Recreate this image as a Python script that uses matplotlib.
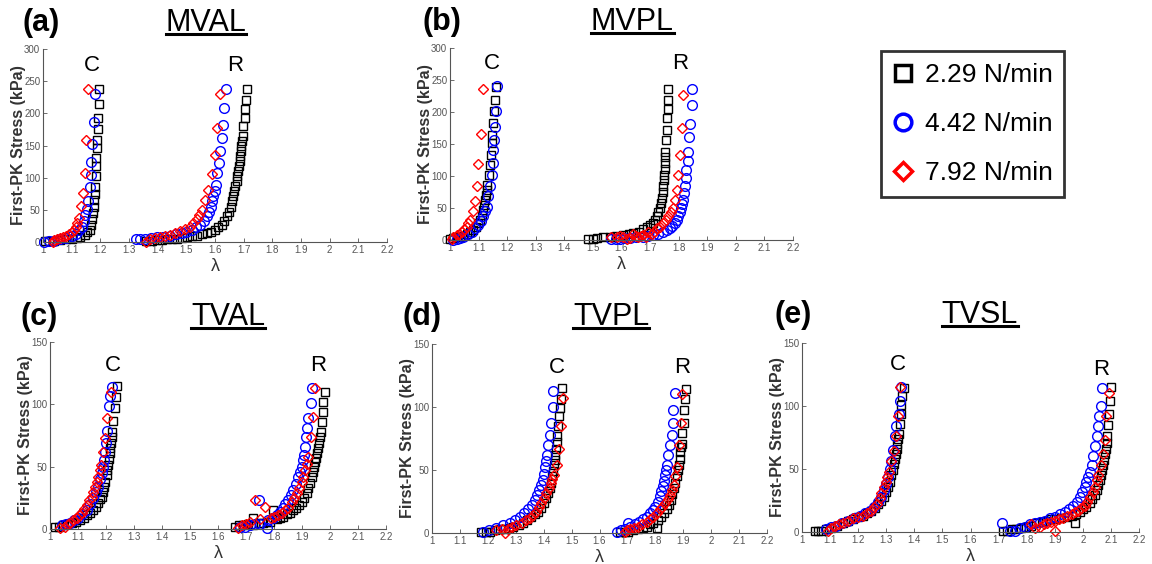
import matplotlib
matplotlib.use("Agg")
import matplotlib.pyplot as plt
from matplotlib.lines import Line2D

plt.rcParams["font.family"] = ["Liberation Sans", "DejaVu Sans"]

W, H = 1152, 564

# ---- data: (stretch lambda, first-PK stress in kPa) ----
RATES = ["2.29 N/min", "4.42 N/min", "7.92 N/min"]

# (a) MVAL
MVAL_C_229 = [(1.006, 1), (1.02, 2), (1.04, 2), (1.06, 3), (1.08, 4), (1.10, 5), (1.117, 6),
              (1.13, 8), (1.146, 11), (1.155, 15), (1.163, 19), (1.168, 27), (1.172, 35),
              (1.175, 45), (1.177, 55), (1.179, 65), (1.181, 74), (1.182, 86), (1.184, 102),
              (1.186, 118), (1.186, 130), (1.189, 146), (1.19, 159), (1.191, 176),
              (1.192, 193), (1.195, 215), (1.196, 238)]
MVAL_C_442 = [(1.005, 0), (1.02, 1), (1.04, 2), (1.06, 4), (1.08, 6), (1.10, 9), (1.115, 13),
              (1.125, 18), (1.135, 24), (1.142, 32), (1.148, 42), (1.153, 52), (1.157, 63),
              (1.163, 86), (1.166, 104), (1.169, 124), (1.172, 153), (1.177, 187), (1.181, 230)]
MVAL_C_792 = [(1.035, 0), (1.04, 3), (1.05, 5), (1.06, 6), (1.07, 8), (1.08, 10), (1.09, 12),
              (1.10, 15), (1.108, 19), (1.114, 24), (1.12, 30), (1.126, 37), (1.134, 56),
              (1.14, 76), (1.146, 107), (1.149, 159), (1.157, 238)]
MVAL_R_229 = [(1.361, 2), (1.38, 2), (1.396, 3), (1.415, 3), (1.431, 4), (1.45, 5), (1.466, 5),
              (1.485, 6), (1.501, 7), (1.52, 9), (1.536, 10), (1.555, 12), (1.571, 14),
              (1.585, 16), (1.6, 19), (1.612, 23), (1.624, 27), (1.633, 33), (1.641, 40),
              (1.648, 47), (1.655, 55), (1.66, 63), (1.664, 71), (1.668, 79), (1.671, 87),
              (1.675, 95), (1.678, 102), (1.681, 110), (1.683, 118), (1.686, 126), (1.688, 133),
              (1.69, 141), (1.692, 149), (1.694, 157), (1.696, 164), (1.699, 180),
              (1.703, 193), (1.705, 207), (1.707, 221), (1.711, 238)]
MVAL_R_442 = [(1.326, 4), (1.34, 4), (1.355, 5), (1.375, 6), (1.396, 7), (1.42, 8), (1.443, 10),
              (1.465, 12), (1.484, 14), (1.5, 16), (1.519, 19), (1.535, 23), (1.548, 27),
              (1.56, 33), (1.571, 40), (1.578, 47), (1.585, 55), (1.59, 63), (1.594, 71),
              (1.6, 80), (1.604, 89), (1.608, 107), (1.614, 123), (1.618, 141), (1.624, 162),
              (1.627, 182), (1.632, 208), (1.638, 238)]
MVAL_R_792 = [(1.361, 0), (1.373, 5), (1.39, 6), (1.408, 8), (1.425, 9), (1.443, 11), (1.46, 14),
              (1.478, 17), (1.495, 20), (1.513, 24), (1.525, 29), (1.536, 35), (1.545, 42),
              (1.554, 50), (1.565, 66), (1.577, 81), (1.589, 105), (1.6, 136), (1.608, 177),
              (1.618, 230)]

# (b) MVPL
MVPL_C_229 = [(1.0, 2), (1.012, 3), (1.024, 4), (1.035, 5), (1.046, 7), (1.058, 9), (1.07, 12),
              (1.082, 16), (1.09, 20), (1.099, 26), (1.105, 32), (1.111, 39), (1.116, 47),
              (1.12, 55), (1.123, 62), (1.126, 70), (1.129, 78), (1.131, 86), (1.135, 102),
              (1.139, 117), (1.142, 133), (1.146, 151), (1.148, 164), (1.152, 183),
              (1.154, 201), (1.157, 219), (1.161, 239)]
MVPL_C_442 = [(1.01, 0), (1.023, 1), (1.035, 3), (1.047, 5), (1.062, 9), (1.076, 13),
              (1.088, 18), (1.099, 23), (1.108, 30), (1.117, 37), (1.123, 45), (1.128, 52),
              (1.134, 68), (1.14, 84), (1.146, 102), (1.149, 120), (1.152, 141), (1.155, 157),
              (1.157, 177), (1.161, 201), (1.163, 241)]
MVPL_C_792 = [(1.006, 1), (1.012, 4), (1.023, 8), (1.032, 10), (1.041, 13), (1.05, 17),
              (1.058, 21), (1.064, 26), (1.07, 31), (1.079, 45), (1.087, 61), (1.093, 85),
              (1.099, 118), (1.107, 165), (1.117, 236)]
MVPL_R_229 = [(1.484, 1), (1.5, 2), (1.513, 3), (1.536, 4), (1.559, 5), (1.582, 6), (1.606, 8),
              (1.625, 9), (1.641, 11), (1.66, 13), (1.676, 17), (1.69, 20), (1.699, 23),
              (1.709, 27), (1.717, 32), (1.723, 37), (1.728, 44), (1.733, 50), (1.737, 58),
              (1.741, 66), (1.744, 75), (1.746, 84), (1.748, 93), (1.75, 102), (1.751, 111),
              (1.752, 120), (1.753, 129), (1.753, 138), (1.755, 157), (1.758, 172),
              (1.76, 191), (1.761, 204), (1.763, 219), (1.763, 236)]
MVPL_R_442 = [(1.565, 1), (1.58, 2), (1.594, 2), (1.61, 3), (1.629, 3), (1.65, 4), (1.676, 5),
              (1.693, 6), (1.711, 8), (1.728, 10), (1.746, 12), (1.758, 15), (1.769, 18),
              (1.778, 22), (1.787, 26), (1.793, 31), (1.798, 37), (1.803, 43), (1.808, 50),
              (1.811, 56), (1.814, 63), (1.818, 73), (1.822, 84), (1.825, 97), (1.827, 109),
              (1.831, 123), (1.833, 138), (1.836, 161), (1.839, 182), (1.845, 211),
              (1.845, 236)]
MVPL_R_792 = [(1.565, 4), (1.583, 4), (1.595, 7), (1.606, 5), (1.618, 2), (1.629, 3),
              (1.641, 10), (1.65, 6), (1.659, 4), (1.668, 7), (1.676, 8), (1.685, 4),
              (1.693, 13), (1.705, 9), (1.715, 12), (1.723, 18), (1.735, 21), (1.746, 26),
              (1.755, 31), (1.763, 37), (1.772, 44), (1.779, 50), (1.787, 63), (1.793, 78),
              (1.798, 102), (1.804, 133), (1.81, 175), (1.816, 227)]

# (c) TVAL
TVAL_C_229 = [(1.018, 2), (1.033, 2), (1.048, 3), (1.062, 4), (1.077, 5), (1.092, 6),
              (1.107, 7), (1.12, 9), (1.131, 11), (1.143, 13), (1.155, 15), (1.165, 18),
              (1.173, 21), (1.18, 24), (1.185, 26), (1.19, 30), (1.193, 34), (1.198, 38),
              (1.202, 43), (1.205, 47), (1.208, 51), (1.211, 56), (1.214, 61), (1.216, 65),
              (1.218, 69), (1.221, 74), (1.223, 78), (1.226, 87), (1.232, 97), (1.235, 106),
              (1.238, 115)]
TVAL_C_442 = [(1.042, 3), (1.056, 4), (1.071, 5), (1.086, 7), (1.101, 9), (1.116, 12),
              (1.131, 15), (1.143, 20), (1.155, 25), (1.165, 30), (1.173, 34), (1.18, 40),
              (1.185, 45), (1.19, 50), (1.193, 55), (1.197, 62), (1.2, 69), (1.205, 79),
              (1.212, 99), (1.214, 107), (1.22, 114)]
TVAL_C_792 = [(1.036, 1), (1.054, 2), (1.063, 4), (1.071, 5), (1.083, 7), (1.095, 9),
              (1.104, 11), (1.113, 13), (1.123, 16), (1.133, 19), (1.141, 23), (1.149, 26),
              (1.155, 30), (1.161, 34), (1.167, 38), (1.173, 42), (1.177, 47), (1.181, 51),
              (1.188, 62), (1.196, 73), (1.205, 89), (1.218, 110)]
TVAL_R_229 = [(1.661, 2), (1.675, 3), (1.69, 3), (1.708, 4), (1.726, 3), (1.726, 9),
              (1.745, 5), (1.762, 5), (1.774, 6), (1.786, 6), (1.798, 15), (1.81, 8),
              (1.822, 9), (1.833, 10), (1.845, 12), (1.857, 13), (1.868, 15), (1.879, 17),
              (1.889, 19), (1.899, 22), (1.908, 25), (1.917, 29), (1.923, 33), (1.929, 37),
              (1.934, 42), (1.938, 46), (1.942, 50), (1.946, 54), (1.95, 57), (1.955, 61),
              (1.958, 65), (1.962, 69), (1.965, 74), (1.967, 78), (1.97, 86), (1.974, 94),
              (1.976, 102), (1.982, 110)]
TVAL_R_442 = [(1.679, 2), (1.697, 2), (1.714, 3), (1.732, 4), (1.748, 23), (1.75, 4),
              (1.774, 1), (1.78, 7), (1.795, 9), (1.81, 11), (1.82, 14), (1.831, 17),
              (1.841, 20), (1.851, 23), (1.86, 27), (1.869, 31), (1.878, 36), (1.887, 42),
              (1.893, 46), (1.899, 50), (1.903, 55), (1.907, 59), (1.911, 66), (1.914, 74),
              (1.919, 81), (1.923, 89), (1.931, 101), (1.935, 113)]
TVAL_R_792 = [(1.673, 1), (1.685, 3), (1.7, 4), (1.714, 6), (1.732, 23), (1.75, 8),
              (1.768, 18), (1.788, 9), (1.8, 10), (1.815, 11), (1.827, 13), (1.839, 15),
              (1.851, 17), (1.863, 22), (1.872, 25), (1.881, 29), (1.89, 33), (1.899, 38),
              (1.905, 42), (1.911, 47), (1.918, 52), (1.923, 58), (1.931, 74), (1.938, 90),
              (1.946, 113)]

# (d) TVPL
TVPL_C_229 = [(1.177, 1), (1.192, 1), (1.207, 1), (1.225, 2), (1.243, 3), (1.26, 3),
              (1.275, 4), (1.291, 5), (1.31, 6), (1.327, 8), (1.342, 10), (1.356, 13),
              (1.368, 15), (1.38, 17), (1.391, 20), (1.401, 24), (1.409, 28), (1.416, 32),
              (1.422, 36), (1.427, 40), (1.431, 45), (1.434, 49), (1.437, 54), (1.439, 58),
              (1.442, 62), (1.444, 67), (1.447, 72), (1.449, 77), (1.452, 85), (1.456, 93),
              (1.458, 99), (1.462, 106), (1.467, 115)]
TVPL_C_442 = [(1.183, 1), (1.205, 2), (1.231, 4), (1.255, 6), (1.279, 8), (1.298, 10),
              (1.315, 13), (1.33, 16), (1.344, 19), (1.357, 22), (1.368, 26), (1.377, 30),
              (1.384, 34), (1.39, 38), (1.396, 42), (1.4, 47), (1.404, 52), (1.409, 57),
              (1.413, 62), (1.417, 70), (1.422, 78), (1.428, 87), (1.432, 100), (1.434, 113)]
TVPL_C_792 = [(1.231, 2), (1.25, 3), (1.261, 0), (1.272, 3), (1.285, 5), (1.3, 6),
              (1.321, 8), (1.335, 10), (1.35, 12), (1.362, 14), (1.374, 17), (1.384, 21),
              (1.392, 24), (1.4, 28), (1.41, 32), (1.418, 36), (1.425, 40), (1.431, 43),
              (1.437, 46), (1.446, 54), (1.455, 67), (1.462, 85), (1.47, 107)]
TVPL_R_229 = [(1.673, 1), (1.69, 1), (1.703, 1), (1.72, 2), (1.739, 3), (1.755, 4),
              (1.769, 5), (1.782, 7), (1.793, 8), (1.805, 4), (1.81, 10), (1.819, 13),
              (1.83, 16), (1.841, 19), (1.848, 22), (1.855, 26), (1.861, 31), (1.867, 36),
              (1.872, 40), (1.877, 45), (1.881, 50), (1.884, 54), (1.887, 59), (1.889, 64),
              (1.892, 68), (1.894, 71), (1.897, 79), (1.901, 87), (1.904, 98), (1.906, 106),
              (1.91, 114)]
TVPL_R_442 = [(1.661, 1), (1.676, 2), (1.691, 3), (1.703, 8), (1.71, 5), (1.727, 7),
              (1.742, 9), (1.757, 11), (1.77, 13), (1.781, 16), (1.79, 18), (1.799, 21),
              (1.808, 25), (1.815, 29), (1.822, 33), (1.827, 37), (1.831, 41), (1.835, 46),
              (1.838, 50), (1.841, 54), (1.847, 62), (1.853, 70), (1.859, 78), (1.862, 87),
              (1.865, 98), (1.871, 111)]
TVPL_R_792 = [(1.691, 1), (1.7, 2), (1.709, 3), (1.724, 4), (1.739, 5), (1.754, 7),
              (1.769, 9), (1.782, 11), (1.793, 13), (1.805, 16), (1.815, 19), (1.825, 21),
              (1.835, 24), (1.845, 27), (1.853, 30), (1.86, 34), (1.867, 38), (1.872, 45),
              (1.877, 52), (1.886, 70), (1.891, 87), (1.895, 110)]

# (e) TVSL
TVSL_C_229 = [(1.045, 1), (1.057, 1), (1.069, 1), (1.087, 2), (1.105, 3), (1.125, 5),
              (1.146, 7), (1.164, 9), (1.182, 10), (1.2, 12), (1.217, 13), (1.232, 15),
              (1.247, 17), (1.26, 19), (1.271, 22), (1.282, 25), (1.291, 28), (1.299, 32),
              (1.306, 36), (1.312, 40), (1.318, 45), (1.323, 49), (1.328, 54), (1.331, 58),
              (1.334, 62), (1.337, 66), (1.34, 70), (1.342, 74), (1.344, 78), (1.348, 86),
              (1.352, 94), (1.354, 101), (1.357, 108), (1.362, 114)]
TVSL_C_442 = [(1.087, 2), (1.105, 4), (1.122, 5), (1.143, 7), (1.164, 9), (1.185, 11),
              (1.205, 13), (1.223, 15), (1.241, 17), (1.257, 20), (1.271, 24), (1.282, 28),
              (1.291, 33), (1.299, 38), (1.306, 44), (1.312, 50), (1.318, 56), (1.324, 65),
              (1.33, 76), (1.336, 84), (1.346, 94), (1.35, 104), (1.354, 115)]
TVSL_C_792 = [(1.093, 1), (1.105, 3), (1.116, 5), (1.13, 6), (1.146, 7), (1.164, 9),
              (1.182, 11), (1.2, 12), (1.217, 13), (1.232, 15), (1.247, 17), (1.258, 20),
              (1.267, 22), (1.276, 27), (1.283, 31), (1.291, 36), (1.298, 40), (1.304, 44),
              (1.31, 48), (1.318, 56), (1.327, 64), (1.334, 76), (1.342, 92), (1.348, 115)]
TVSL_R_229 = [(1.716, 1), (1.731, 1), (1.746, 2), (1.763, 2), (1.781, 3), (1.799, 4),
              (1.817, 5), (1.835, 7), (1.853, 8), (1.87, 9), (1.888, 10), (1.906, 10),
              (1.924, 11), (1.942, 12), (1.96, 13), (1.971, 7), (1.975, 14), (1.989, 16),
              (2.001, 18), (2.013, 20), (2.024, 23), (2.034, 26), (2.042, 29), (2.049, 33),
              (2.055, 37), (2.061, 41), (2.065, 45), (2.069, 49), (2.073, 53), (2.076, 57),
              (2.079, 62), (2.082, 66), (2.085, 71), (2.087, 76), (2.09, 85), (2.094, 94),
              (2.096, 104), (2.1, 115)]
TVSL_R_442 = [(1.713, 7), (1.74, 1), (1.758, 1), (1.775, 3), (1.793, 4), (1.811, 6),
              (1.829, 7), (1.847, 8), (1.865, 9), (1.883, 11), (1.9, 12), (1.918, 14),
              (1.936, 16), (1.951, 18), (1.966, 21), (1.978, 24), (1.989, 28), (1.998, 32),
              (2.007, 36), (2.013, 40), (2.019, 44), (2.025, 48), (2.031, 53), (2.037, 60),
              (2.043, 68), (2.049, 76), (2.055, 84), (2.058, 92), (2.063, 100), (2.067, 114)]
TVSL_R_792 = [(1.814, 6), (1.83, 3), (1.847, 4), (1.86, 6), (1.873, 7), (1.887, 8),
              (1.9, 1), (1.9, 9), (1.915, 10), (1.93, 11), (1.945, 13), (1.96, 14),
              (1.972, 16), (1.983, 17), (1.995, 19), (2.007, 21), (2.016, 24), (2.025, 28),
              (2.035, 32), (2.043, 36), (2.05, 41), (2.055, 45), (2.063, 53), (2.072, 62),
              (2.078, 73), (2.084, 92), (2.094, 110)]

PANEL_TITLES = ["MVAL", "MVPL", "TVAL", "TVPL", "TVSL"]
PANEL_LETTERS = ["(a)", "(b)", "(c)", "(d)", "(e)"]
PANEL_SERIES = [
    [MVAL_C_229, MVAL_C_442, MVAL_C_792, MVAL_R_229, MVAL_R_442, MVAL_R_792],
    [MVPL_C_229, MVPL_C_442, MVPL_C_792, MVPL_R_229, MVPL_R_442, MVPL_R_792],
    [TVAL_C_229, TVAL_C_442, TVAL_C_792, TVAL_R_229, TVAL_R_442, TVAL_R_792],
    [TVPL_C_229, TVPL_C_442, TVPL_C_792, TVPL_R_229, TVPL_R_442, TVPL_R_792],
    [TVSL_C_229, TVSL_C_442, TVSL_C_792, TVSL_R_229, TVSL_R_442, TVSL_R_792],
]
PANEL_YMAX = [300, 300, 150, 150, 150]
# where the "C" and "R" labels sit, in data coords
PANEL_C_POS = [(1.169, 274), (1.146, 276), (1.226, 131), (1.446, 131), (1.342, 133)]
PANEL_R_POS = [(1.67, 274), (1.804, 276), (1.958, 131), (1.895, 131), (2.066, 129)]

X_TICKS = [1.0, 1.1, 1.2, 1.3, 1.4, 1.5, 1.6, 1.7, 1.8, 1.9, 2.0, 2.1, 2.2]

# ---- layout (pixels: left, top, right, bottom) ----
AX_BOX = [(43, 49, 387, 242), (450, 48, 793, 240), (50, 342, 386, 529),
          (432, 344, 767, 533), (802, 343, 1139, 532)]
# letter left x, title centre x, baseline y
TITLE_POS = [(22, 206, 31), (423, 632, 30), (20, 228, 325), (403, 611, 325), (775, 980, 323)]

STYLES = [
    dict(marker="s", color="k", ms=6),
    dict(marker="o", color="#0000ff", ms=7),
    dict(marker="D", color="#ff0000", ms=5.5),
]
AXIS_GREY = "#555555"

fig = plt.figure(figsize=(W / 100, H / 100), dpi=100)

titles = []
for i in range(5):
    l, t, r, b = AX_BOX[i]
    ax = fig.add_axes([l / W, 1 - b / H, (r - l) / W, (b - t) / H])

    for k, pts in enumerate(PANEL_SERIES[i]):
        st = STYLES[k % 3]
        xs = [p[0] for p in pts]
        ys = [p[1] for p in pts]
        ax.plot(xs, ys, ls="none", marker=st["marker"], ms=st["ms"], mfc="none",
                mec=st["color"], mew=1.0, clip_on=False)

    ax.set_xlim(1.0, 2.2)
    ax.set_ylim(0, PANEL_YMAX[i])
    ax.set_xticks(X_TICKS)
    ax.set_xticklabels([f"{v:g}" for v in X_TICKS])
    ax.set_yticks(range(0, PANEL_YMAX[i] + 1, 50))
    for s in ["top", "right"]:
        ax.spines[s].set_visible(False)
    for s in ["left", "bottom"]:
        ax.spines[s].set_color(AXIS_GREY)
        ax.spines[s].set_linewidth(0.8)
    ax.tick_params(direction="in", length=3, width=0.6, colors=AXIS_GREY, labelsize=7, pad=2)

    ax.set_xlabel("λ", fontsize=13, color="#333333", labelpad=2)
    ax.set_ylabel("First-PK Stress (kPa)", fontsize=11.5, fontweight="bold", color="#333333")
    ax.yaxis.set_label_coords(-17 / (r - l), 0.5)

    cx, cy = PANEL_C_POS[i]
    rx, ry = PANEL_R_POS[i]
    ax.text(cx, cy, "C", fontsize=16, ha="center", va="center")
    ax.text(rx, ry, "R", fontsize=16, ha="center", va="center")

    lx, tx, by = TITLE_POS[i]
    fig.text(lx / W, 1 - by / H, PANEL_LETTERS[i], fontsize=22, fontweight="bold",
             ha="left", va="baseline")
    titles.append((fig.text(tx / W, 1 - by / H, PANEL_TITLES[i], fontsize=22,
                            ha="center", va="baseline"), by))

# underline the panel titles
fig.canvas.draw()
renderer = fig.canvas.get_renderer()
for txt, by in titles:
    bb = txt.get_window_extent(renderer)
    yline = (H - by - 3) / H
    fig.add_artist(Line2D([bb.x0 / W, bb.x1 / W], [yline, yline],
                          transform=fig.transFigure, color="k", lw=2.2))

handles = [
    Line2D([], [], ls="none", marker="s", ms=11, mfc="none", mec="k", mew=2.5),
    Line2D([], [], ls="none", marker="o", ms=12, mfc="none", mec="#0000ff", mew=2.5),
    Line2D([], [], ls="none", marker="D", ms=9, mfc="none", mec="#ff0000", mew=2.5),
]
leg = fig.legend(handles, RATES, loc="upper left", bbox_to_anchor=(881 / W, 1 - 51 / H),
                 frameon=True, fancybox=False, edgecolor="k", fontsize=19,
                 handlelength=0.8, handletextpad=0.4, labelspacing=0.95,
                 borderpad=0.45, borderaxespad=0)
leg.get_frame().set_linewidth(2)

fig.savefig("out.png", dpi=100)
